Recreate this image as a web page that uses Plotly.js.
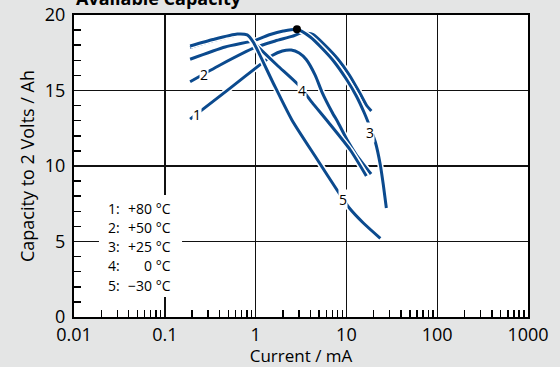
<!DOCTYPE html>
<html><head><meta charset="utf-8">
<script src="https://cdn.plot.ly/plotly-3.0.1.min.js"></script>
<style>html,body{margin:0;padding:0;background:#e4e5e5;}</style>
</head><body><div id="chart" style="width:560px;height:367px;"></div>
<script>
// ---- data ----
const curveNums = ['1', '2', '3', '4', '5'];
const tempLabels = ['+80 °C', '+50 °C', '+25 °C', '0 °C', '−30 °C'];

const c1x = [0.19, 0.525, 1.17, 1.52, 1.97, 2.47, 3.02, 3.61, 4.54, 5.38, 6.94, 8.14, 10.2, 12.9, 18.7];
const c1y = [13.1, 15.16, 16.8, 17.32, 17.62, 17.68, 17.48, 17.05, 16.0, 14.9, 13.58, 12.85, 11.72, 10.73, 9.47];

const c2x = [0.19, 0.407, 0.99, 1.645, 2.51, 3.24, 4.27, 5.85, 8.04, 10.77, 14.05, 16.58, 18.81];
const c2y = [15.58, 16.69, 17.85, 18.28, 18.58, 18.82, 18.72, 17.98, 17.09, 16.03, 14.83, 14.04, 13.64];

const c3x = [0.19, 0.462, 0.99, 1.449, 2.015, 2.854, 4.0, 5.42, 7.36, 9.97, 12.86, 15.76, 18.34, 20.83, 23.65, 25.52, 27.54];
const c3y = [17.07, 17.88, 18.32, 18.71, 18.94, 19.05, 18.54, 17.78, 16.89, 15.76, 14.64, 13.51, 12.52, 11.59, 10.07, 8.74, 7.22];

const c4x = [0.19, 0.341, 0.627, 0.808, 0.941, 1.717, 2.972, 4.18, 6.36, 11.04, 16.58];
const c4y = [17.85, 18.30, 18.68, 18.63, 18.21, 16.69, 15.36, 14.21, 12.88, 11.06, 9.34];

const c5x = [0.19, 0.341, 0.627, 0.808, 0.941, 1.524, 2.51, 4.66, 8.56, 10.77, 15.47, 23.65];
const c5y = [17.95, 18.38, 18.74, 18.68, 18.21, 15.63, 13.05, 10.53, 8.08, 7.22, 6.21, 5.21];

const dotX = [2.854];
const dotY = [19.05];

// curve label positions (on the curves)
const labelX = [0.225, 0.267, 18.35, 3.24, 9.24];
const labelY = [13.38, 16.03, 12.22, 15.01, 7.75];

const xTickVals = [0.01, 0.1, 1, 10, 100, 1000];
const xTickText = ['0.01', '0.1', '1', '10', '100', '1000'];
const yTickVals = [0, 5, 10, 15, 20];

// ---- build ----
const blue = '#0b4a8e';
const curves = [[c1x, c1y], [c2x, c2y], [c3x, c3y], [c4x, c4y], [c5x, c5y]];
const traces = [];
curves.forEach(([x, y]) => {
  traces.push({x: x, y: y, mode: 'lines', hoverinfo: 'skip', showlegend: false,
    line: {color: '#ffffff', width: 6, shape: 'spline', smoothing: 0.6}});
  traces.push({x: x, y: y, mode: 'lines', showlegend: false,
    line: {color: blue, width: 3, shape: 'spline', smoothing: 0.6}});
});
traces.push({x: dotX, y: dotY, mode: 'markers', showlegend: false,
  marker: {color: '#000', size: 8}});

const minorX = [];
for (let d = -2; d < 3; d++) for (let m = 2; m <= 9; m++) minorX.push(m * Math.pow(10, d));
const minorY = [];
for (let v = 1; v < 20; v++) if (v % 5 !== 0) minorY.push(v);

const fontFam = '"Open Sans", "Noto Sans", sans-serif';
const annotations = [];
curveNums.forEach((n, i) => {
  annotations.push({x: Math.log10(labelX[i]), y: labelY[i], xref: 'x', yref: 'y', text: n,
    showarrow: false, bgcolor: '#ffffff', borderpad: 0,
    font: {family: fontFam, size: 14, color: '#000'}});
});
// legend block
const rowY0 = 0.36, rowStep = 0.0636;
curveNums.forEach((n, i) => {
  annotations.push({x: 0.0705, y: rowY0 - i * rowStep, xref: 'paper', yref: 'paper',
    text: n + ':', showarrow: false, xanchor: 'left', yanchor: 'middle',
    font: {family: fontFam, size: 14, color: '#000'}});
  annotations.push({x: 0.2187, y: rowY0 - i * rowStep, xref: 'paper', yref: 'paper',
    text: tempLabels[i], showarrow: false, xanchor: 'right', yanchor: 'middle',
    font: {family: fontFam, size: 14, color: '#000'}});
});
// title (cut off at top)
annotations.push({x: 0, y: 1, xref: 'paper', yref: 'paper', xanchor: 'left', yanchor: 'bottom',
  yshift: 3, text: '<b>Available Capacity</b>', showarrow: false,
  font: {family: fontFam, size: 18, color: '#000'}});

const layout = {
  width: 560, height: 367,
  margin: {l: 74, r: 32, t: 15, b: 50},
  paper_bgcolor: '#e4e5e5', plot_bgcolor: '#ffffff',
  font: {family: fontFam, color: '#000'},
  xaxis: {
    type: 'log', range: [-2, 3],
    tickmode: 'array', tickvals: xTickVals, ticktext: xTickText,
    ticks: '', showgrid: true, gridcolor: '#111', gridwidth: 1.4,
    showline: true, linecolor: '#000', linewidth: 2, mirror: true,
    zeroline: false, tickfont: {size: 18}, ticklabelstandoff: 0,
    minor: {tickmode: 'array', tickvals: minorX, ticks: 'inside', ticklen: 7,
      tickcolor: '#000', tickwidth: 1.5, showgrid: false},
    title: {text: 'Current / mA', font: {size: 17}, standoff: 8}
  },
  yaxis: {
    range: [0, 20],
    tickmode: 'array', tickvals: yTickVals,
    ticks: '', showgrid: true, gridcolor: '#111', gridwidth: 1.4,
    showline: true, linecolor: '#000', linewidth: 2, mirror: true,
    zeroline: false, tickfont: {size: 18}, ticklabelstandoff: 3,
    minor: {tickmode: 'array', tickvals: minorY, ticks: 'inside', ticklen: 7,
      tickcolor: '#000', tickwidth: 1.5, showgrid: false},
    title: {text: 'Capacity to 2 Volts / Ah', font: {size: 18}, standoff: 6}
  },
  shapes: [{type: 'rect', xref: 'paper', yref: 'paper', x0: 0.055, x1: 0.238, y0: 0.066, y1: 0.404,
    fillcolor: '#ffffff', line: {width: 0}, layer: 'above'}],
  annotations: annotations
};

Plotly.newPlot('chart', traces, layout, {displayModeBar: false, staticPlot: true});
</script></body></html>
